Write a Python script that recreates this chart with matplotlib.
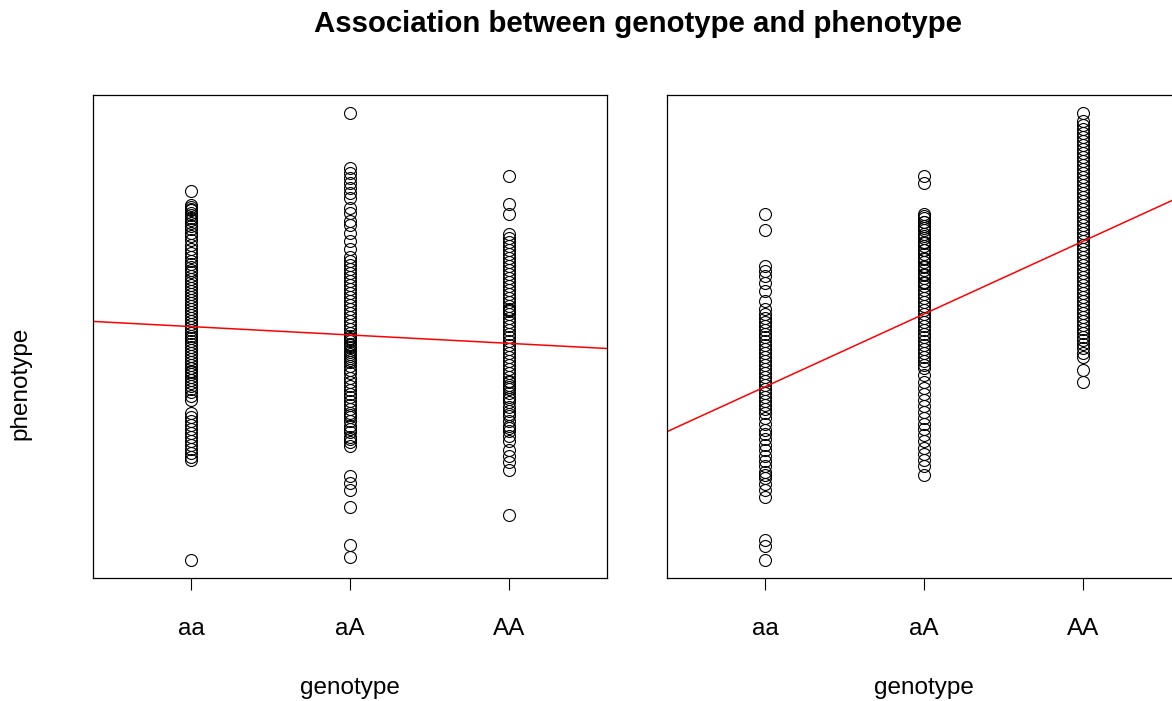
import numpy as np
import matplotlib
matplotlib.use("Agg")
import matplotlib.pyplot as plt

plt.rcParams['font.family'] = ['Liberation Sans', 'DejaVu Sans']

genotypes = ["aa", "aA", "AA"]

# Panel 1: phenotype values per genotype group (no real effect)
left_aa = [38.8, 37.4, 37.2, 37.0, 36.9, 36.6, 36.4, 36.1, 35.9, 35.6, 35.3, 35.0, 34.6,
           34.3, 33.9, 33.4, 33.0, 32.6, 32.2, 31.8, 31.5, 31.2, 30.9, 30.7, 30.3, 30.0,
           29.7, 29.4, 29.1, 28.8, 28.5, 28.2, 27.9, 27.6, 27.3, 27.0, 26.7, 26.4, 26.1,
           25.8, 25.5, 25.2, 24.9, 24.6, 24.3, 24.0, 23.7, 23.4, 23.1, 22.8, 22.5, 22.2,
           21.9, 21.6, 21.3, 21.0, 21.0, 20.7, 20.6, 20.4, 20.1, 19.8, 19.5, 19.2, 18.9,
           18.6, 18.2, 17.8, 16.5, 16.1, 15.7, 15.3, 14.9, 14.5, 14.1, 13.7, 13.3, 12.9,
           12.5, 12.1, 11.8, 1.8]
left_aA = [46.6, 41.1, 40.6, 40.1, 39.6, 39.1, 38.6, 38.1, 37.1, 36.6, 35.8, 35.4, 34.6,
           33.8, 33.0, 32.2, 31.8, 31.4, 31.0, 30.6, 30.2, 29.8, 29.4, 29.0, 28.6, 28.2,
           27.8, 27.4, 27.0, 26.6, 26.2, 25.8, 25.4, 25.0, 24.6, 24.3, 24.0, 23.9, 23.7,
           23.4, 23.3, 23.1, 22.8, 22.6, 22.4, 22.2, 22.0, 21.8, 21.6, 21.2, 20.8, 20.5,
           20.0, 19.6, 19.2, 18.8, 18.4, 18.1, 17.7, 17.3, 16.9, 16.5, 16.3, 16.1, 15.7,
           15.2, 14.9, 14.6, 14.1, 13.9, 13.6, 13.2, 10.2, 9.5, 8.8, 7.1, 3.3, 2.1]
left_AA = [40.3, 37.5, 36.5, 34.5, 34.1, 33.7, 33.3, 32.9, 32.5, 32.1, 31.7, 31.3, 30.9,
           30.5, 30.1, 29.7, 29.3, 28.9, 28.5, 28.1, 27.7, 27.3, 27.0, 26.9, 26.8, 26.5,
           26.1, 25.7, 25.3, 24.9, 24.5, 24.1, 23.7, 23.3, 22.9, 22.5, 22.1, 21.7, 21.3,
           20.9, 20.5, 20.1, 19.7, 19.6, 19.3, 19.1, 18.9, 18.5, 18.1, 17.9, 17.6, 17.1,
           16.7, 16.4, 16.2, 15.7, 15.2, 15.0, 14.7, 14.2, 13.7, 12.8, 12.2, 11.6, 10.8,
           6.3]

# Panel 2: phenotype values per genotype group (additive effect)
right_aa = [36.5, 34.9, 31.3, 30.8, 30.3, 29.6, 28.8, 27.8, 27.0, 26.5, 26.1, 25.7, 25.3,
            24.9, 24.5, 24.1, 23.7, 23.3, 22.9, 22.5, 22.1, 21.7, 21.3, 20.9, 20.5, 20.1,
            19.7, 19.3, 18.9, 18.5, 18.1, 17.7, 17.3, 16.9, 16.5, 16.0, 15.4, 14.8, 14.4,
            13.9, 13.3, 12.8, 12.2, 11.7, 11.2, 10.6, 10.3, 10.0, 9.4, 8.8, 8.1, 3.8,
            3.2, 1.8]
right_aA = [40.3, 39.6, 36.5, 36.3, 36.1, 35.7, 35.7, 35.3, 35.1, 34.9, 34.5, 34.3, 34.1,
            33.7, 33.6, 33.3, 32.9, 32.9, 32.5, 32.1, 32.0, 31.7, 31.3, 31.2, 30.9, 30.5,
            30.4, 30.1, 29.7, 29.6, 29.3, 28.9, 28.5, 28.1, 27.7, 27.3, 26.9, 26.5, 26.1,
            25.7, 25.3, 24.9, 24.5, 24.1, 23.7, 23.3, 22.9, 22.5, 22.1, 21.7, 21.3, 21.0,
            20.3, 19.6, 19.0, 18.4, 17.8, 17.2, 16.6, 16.0, 15.4, 14.9, 14.3, 13.7, 13.0,
            12.4, 11.8, 11.2, 10.3]
right_AA = [46.6, 45.8, 45.4, 45.0, 44.6, 44.2, 43.8, 43.4, 43.0, 42.6, 42.2, 41.8, 41.4,
            41.0, 40.6, 40.2, 39.8, 39.4, 39.0, 38.6, 38.2, 37.8, 37.4, 37.0, 36.6, 36.2,
            35.8, 35.4, 35.0, 34.6, 34.2, 33.8, 33.4, 33.0, 32.6, 32.2, 31.8, 31.4, 31.0,
            30.6, 30.2, 29.8, 29.4, 29.0, 28.6, 28.2, 27.8, 27.4, 27.0, 26.6, 26.2, 25.8,
            25.4, 25.0, 24.6, 24.2, 23.8, 23.4, 23.0, 22.5, 22.1, 20.8, 19.6]

panels = [
    (left_aa, left_aA, left_AA),
    (right_aa, right_aA, right_AA),
]

W, H = 1172, 701
fig = plt.figure(figsize=(W / 100, H / 100), dpi=100)

ax_w = 514 / W
ax_h = 483 / H
ax_b = (H - 578) / H
lefts = [93 / W, 667 / W]

x_lo, x_hi = -0.5, 2.5
x_pad = 0.04 * (x_hi - x_lo)

for left, groups in zip(lefts, panels):
    ax = fig.add_axes([left, ax_b, ax_w, ax_h])
    xs = np.concatenate([np.full(len(g), i, dtype=float) for i, g in enumerate(groups)])
    ys = np.concatenate([np.asarray(g, dtype=float) for g in groups])
    ax.plot(xs, ys, linestyle='none', marker='o', markersize=8.6,
            markerfacecolor='none', markeredgecolor='black', markeredgewidth=0.8)
    slope, intercept = np.polyfit(xs, ys, 1)
    ax.axline((0, intercept), slope=slope, color='red', linewidth=1.1)
    ax.set_xlim(x_lo - x_pad, x_hi + x_pad)
    y_pad = 0.04 * (ys.max() - ys.min())
    ax.set_ylim(ys.min() - y_pad, ys.max() + y_pad)
    ax.set_xticks(range(len(genotypes)))
    ax.set_xticklabels(genotypes, fontsize=17.5)
    ax.set_yticks([])
    ax.tick_params(axis='x', direction='out', length=8.5, width=0.8, pad=20.5)
    for s in ax.spines.values():
        s.set_linewidth(0.9)
    cx = left + ax_w / 2
    fig.text(cx, 1 - 688 / H, "genotype", ha='center', va='center', fontsize=17.5)

fig.text(20 / W, 1 - 383 / H, "phenotype", rotation=90, ha='center', va='center',
         fontsize=17.5)
fig.text(638 / W, 1 - 24 / H, "Association between genotype and phenotype",
         ha='center', va='center', fontsize=21.2, fontweight='bold')

fig.savefig("out.png", dpi=100)
